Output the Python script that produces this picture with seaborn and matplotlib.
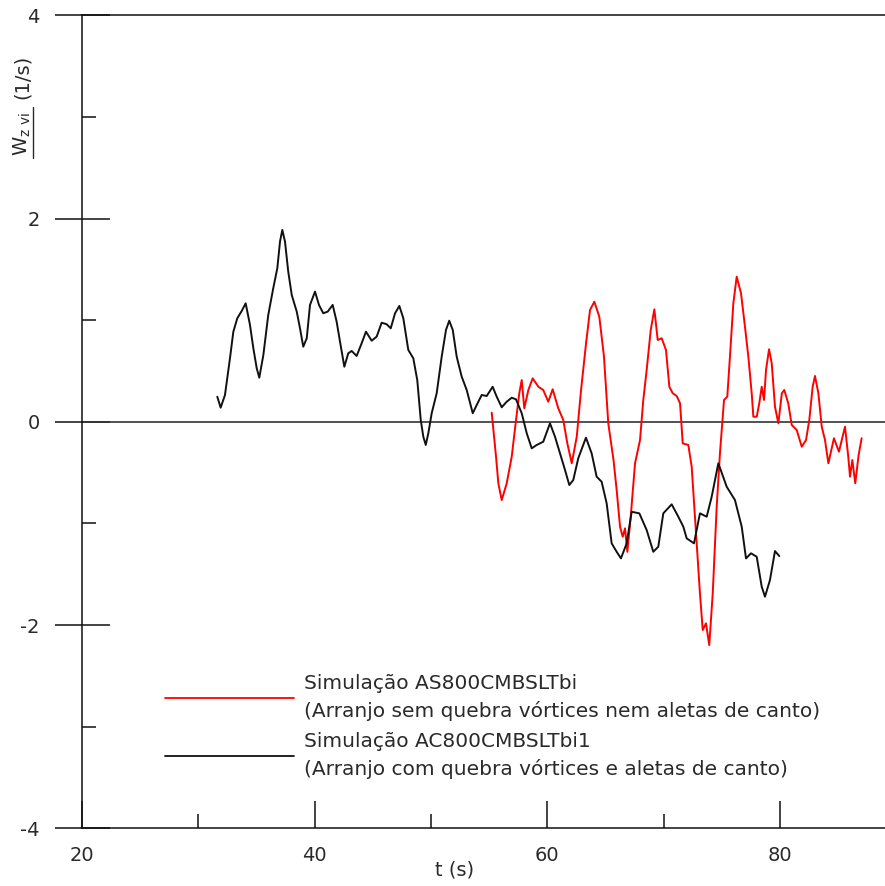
import numpy as np
import pandas as pd
import matplotlib
matplotlib.use("Agg")
import matplotlib.pyplot as plt
from matplotlib.lines import Line2D
import seaborn as sns

# ---------------- data ----------------
t_black = [31.63, 31.92, 32.29, 32.72, 33.01, 33.35, 33.73, 34.07, 34.44, 34.73,
           35.02, 35.24, 35.59, 36.01, 36.44, 36.79, 37.02, 37.22, 37.45, 37.73,
           38.03, 38.46, 38.74, 39.02, 39.32, 39.60, 40.03, 40.37, 40.74, 41.12,
           41.55, 41.89, 42.18, 42.55, 42.89, 43.18, 43.61, 44.04, 44.41, 44.90,
           45.33, 45.76, 46.19, 46.54, 46.91, 47.28, 47.62, 48.05, 48.48, 48.82,
           49.12, 49.34, 49.55, 49.77, 50.06, 50.49, 50.92, 51.29, 51.57, 51.87,
           52.21, 52.64, 53.07, 53.59, 53.93, 54.36, 54.79, 55.30, 55.65, 56.08,
           56.51, 56.94, 57.31, 57.80, 58.23, 58.66, 59.09, 59.65, 60.23, 60.66,
           61.09, 61.52, 61.89, 62.23, 62.66, 63.32, 63.81, 64.24, 64.67, 65.10,
           65.53, 65.96, 66.33, 66.82, 67.25, 67.91, 68.54, 69.11, 69.54, 69.97,
           70.69, 71.26, 71.69, 71.98, 72.61, 73.12, 73.70, 74.13, 74.70, 75.42,
           76.13, 76.71, 77.08, 77.51, 78.00, 78.43, 78.71, 79.14, 79.57, 79.94]
w_black = [0.247, 0.139, 0.264, 0.625, 0.887, 1.019, 1.091, 1.166, 0.953, 0.723,
           0.527, 0.434, 0.657, 1.051, 1.314, 1.511, 1.773, 1.888, 1.773, 1.477,
           1.248, 1.084, 0.920, 0.739, 0.822, 1.150, 1.281, 1.150, 1.068, 1.084,
           1.150, 0.985, 0.788, 0.542, 0.674, 0.697, 0.648, 0.773, 0.887, 0.798,
           0.838, 0.975, 0.960, 0.920, 1.068, 1.140, 1.019, 0.707, 0.625, 0.411,
           0.018, -0.147, -0.228, -0.113, 0.084, 0.281, 0.641, 0.904, 0.995, 0.904,
           0.641, 0.444, 0.313, 0.084, 0.165, 0.264, 0.254, 0.345, 0.247, 0.143,
           0.198, 0.237, 0.221, 0.084, -0.113, -0.261, -0.228, -0.196, -0.015, -0.147,
           -0.310, -0.474, -0.622, -0.573, -0.359, -0.156, -0.310, -0.540, -0.590, -0.802,
           -1.196, -1.279, -1.344, -1.196, -0.885, -0.901, -1.065, -1.279, -1.229, -0.901,
           -0.812, -0.934, -1.032, -1.147, -1.196, -0.901, -0.934, -0.737, -0.408, -0.639,
           -0.770, -1.032, -1.344, -1.294, -1.328, -1.623, -1.721, -1.557, -1.272, -1.321]

t_red = [55.22, 55.59, 55.79, 56.08, 56.51, 56.94, 57.31, 57.59, 57.80, 58.02,
         58.37, 58.74, 59.23, 59.65, 60.08, 60.46, 60.94, 61.37, 61.72, 62.10,
         62.53, 62.90, 63.33, 63.67, 64.04, 64.47, 64.87, 65.24, 65.69, 65.96,
         66.25, 66.48, 66.68, 66.88, 67.17, 67.54, 67.97, 68.25, 68.54, 68.89,
         69.20, 69.49, 69.83, 70.20, 70.49, 70.78, 71.12, 71.41, 71.64, 72.12,
         72.41, 72.84, 73.12, 73.36, 73.64, 73.92, 74.22, 74.56, 74.84, 75.19,
         75.47, 75.70, 75.99, 76.28, 76.65, 76.99, 77.28, 77.57, 77.71, 78.00,
         78.22, 78.43, 78.63, 78.80, 79.06, 79.29, 79.57, 79.86, 80.16, 80.37,
         80.71, 81.01, 81.44, 81.87, 82.24, 82.52, 82.81, 83.01, 83.30, 83.59,
         83.87, 84.16, 84.64, 85.07, 85.59, 85.87, 86.02, 86.22, 86.47, 86.76,
         87.02]
w_red = [0.090, -0.343, -0.605, -0.770, -0.605, -0.343, 0.018, 0.281, 0.411, 0.133,
         0.313, 0.428, 0.345, 0.313, 0.198, 0.320, 0.133, 0.018, -0.212, -0.408,
         -0.147, 0.313, 0.773, 1.100, 1.182, 1.034, 0.641, -0.015, -0.376, -0.670,
         -1.032, -1.131, -1.048, -1.279, -0.934, -0.408, -0.179, 0.215, 0.510, 0.904,
         1.107, 0.805, 0.822, 0.707, 0.345, 0.281, 0.254, 0.182, -0.212, -0.228,
         -0.442, -1.196, -1.688, -2.049, -1.983, -2.197, -1.688, -0.836, -0.310, 0.215,
         0.247, 0.641, 1.166, 1.428, 1.265, 0.936, 0.641, 0.281, 0.050, 0.050,
         0.182, 0.345, 0.215, 0.510, 0.714, 0.576, 0.149, -0.015, 0.281, 0.313,
         0.182, -0.031, -0.081, -0.245, -0.179, 0.018, 0.345, 0.451, 0.281, -0.048,
         -0.179, -0.408, -0.162, -0.294, -0.048, -0.343, -0.540, -0.376, -0.605, -0.327,
         -0.162]

label_red = "Simulação AS800CMBSLTbi\n(Arranjo sem quebra vórtices nem aletas de canto)"
label_black = "Simulação AC800CMBSLTbi1\n(Arranjo com quebra vórtices e aletas de canto)"
x_ticks = [20, 40, 60, 80]
x_minor = [30, 50, 70]
y_ticks = [-4, -2, 0, 2, 4]
y_minor = [-3, -1, 1, 3]

# ---------------- style ----------------
sns.set_style("ticks")
plt.rcParams["font.family"] = ["DejaVu Sans"]
plt.rcParams["axes.unicode_minus"] = False
txt_color = "#2a2a2a"
FS = 14
LFS = 14.5

W, H = 885, 886
fig = plt.figure(figsize=(W / 100, H / 100), dpi=100)
ax = fig.add_axes([82 / W, 1 - 828.3 / H, (W - 82) / W, (828.3 - 15.3) / H])

df_red = pd.DataFrame({"t": t_red, "w": w_red})
df_black = pd.DataFrame({"t": t_black, "w": w_black})

sns.lineplot(data=df_red, x="t", y="w", ax=ax, color="#ff0000", lw=1.4,
             sort=False, estimator=None, label=label_red)
sns.lineplot(data=df_black, x="t", y="w", ax=ax, color="#111111", lw=1.4,
             sort=False, estimator=None, label=label_black)

ax.axhline(0, color="#333333", lw=1.2, zorder=1)

ax.set_xlim(20, 20 + (W - 82) / 11.633)
ax.set_ylim(-4, 4)
ax.set_xticks(x_ticks)
ax.set_xticks(x_minor, minor=True)
ax.set_yticks(y_ticks)
ax.set_yticks(y_minor, minor=True)
ax.set_xticklabels([str(v) for v in x_ticks])
ax.set_yticklabels([str(v) for v in y_ticks])

for s in ["left", "bottom", "top"]:
    ax.spines[s].set_visible(True)
    ax.spines[s].set_linewidth(1.1)
    ax.spines[s].set_color("#111111")
ax.spines["right"].set_visible(False)

ax.tick_params(axis="y", which="major", direction="inout", length=39.6, width=1.1,
               pad=10.5, labelsize=FS, labelcolor=txt_color, color="#111111")
ax.tick_params(axis="y", which="minor", direction="in", length=10, width=1.1,
               color="#111111")
ax.tick_params(axis="x", which="major", direction="in", length=19.4, width=1.1,
               pad=12.5, labelsize=FS, labelcolor=txt_color, color="#111111")
ax.tick_params(axis="x", which="minor", direction="in", length=10, width=1.1,
               color="#111111")

ax.set_xlabel("t (s)", fontsize=FS, color=txt_color)
ax.xaxis.set_label_coords((455 - 82) / (W - 82), -0.040)
ax.set_ylabel("")

# y label with underlined symbol
fig.text(22 / W, 1 - 134 / H, r"W$_{\mathregular{z\ vi}}$", rotation=90,
         ha="center", va="center", fontsize=FS, color=txt_color)
fig.text(22 / W, 1 - 77 / H, "(1/s)", rotation=90,
         ha="center", va="center", fontsize=FS, color=txt_color)
fig.add_artist(Line2D([33 / W, 33 / W], [1 - 158 / H, 1 - 107 / H],
                      color=txt_color, lw=1.0))

leg = ax.legend(loc="upper left", bbox_to_anchor=(165 / W, 1 - 674 / H),
                bbox_transform=fig.transFigure, frameon=False, fontsize=LFS,
                handlelength=6.4, handletextpad=0.5, labelspacing=0.55,
                borderpad=0, borderaxespad=0)
for t in leg.get_texts():
    t.set_color(txt_color)
    t.set_linespacing(1.5)
for l in leg.get_lines():
    l.set_linewidth(1.3)

fig.savefig("out.png", dpi=100)
